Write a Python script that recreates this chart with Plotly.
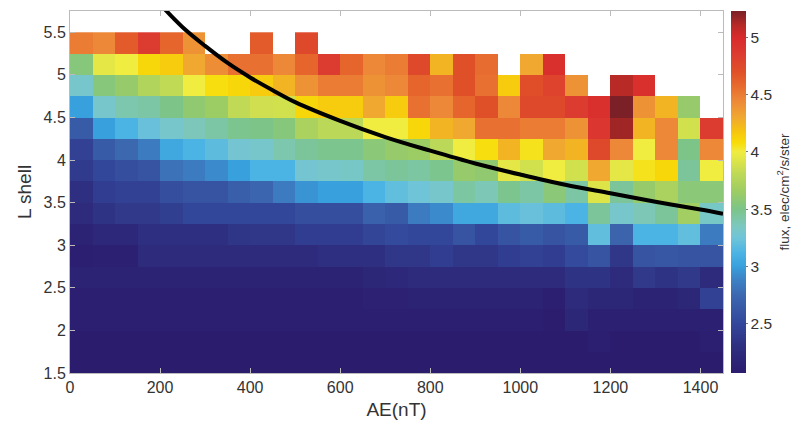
import plotly.graph_objects as go

# AE bin edges (nT) and L-shell bin edges
ae_edges = [0, 50, 100, 150, 200, 250, 300, 350, 400, 450, 500, 550, 600, 650, 700,
            750, 800, 850, 900, 950, 1000, 1050, 1100, 1150, 1200, 1250, 1300, 1350, 1400, 1450]
l_edges = [1.5, 1.75, 2.0, 2.25, 2.5, 2.75, 3.0, 3.25, 3.5, 3.75, 4.0, 4.25, 4.5, 4.75, 5.0, 5.25, 5.5]

N = None
row_150 = [2.07]*29
row_175 = [2.07]*23 + [2.1] + [2.07]*4 + [2.1]
row_200 = [2.1]*21 + [2.08, 2.2] + [2.12]*6
row_225 = [2.1]*13 + [2.13, 2.13] + [2.15]*6 + [2.1, 2.25, 2.2, 2.2, 2.15, 2.15, 2.2, 2.45]
row_250 = [2.15]*13 + [2.2, 2.22] + [2.25]*7 + [2.33, 2.33, 2.25, 2.38, 2.33, 2.38, 2.25]
row_275 = [2.1, 2.12, 2.12, 2.25, 2.25, 2.25, 2.25, 2.25, 2.25, 2.25, 2.25, 2.3, 2.3, 2.3, 2.37,
           2.37, 2.42, 2.37, 2.37, 2.42, 2.45, 2.42, 2.53, 2.6, 2.37, 2.6, 2.62, 2.6, 2.6]
row_300 = [2.15, 2.22, 2.22, 2.3, 2.3, 2.3, 2.3, 2.35, 2.37, 2.37, 2.42, 2.42, 2.42, 2.48, 2.52,
           2.5, 2.5, 2.6, 2.5, 2.6, 2.65, 2.6, 2.65, 3.2, 2.72, 3.12, 3.12, 3.2, 2.85]
row_325 = [2.25, 2.33, 2.38, 2.38, 2.43, 2.5, 2.5, 2.5, 2.5, 2.5, 2.55, 2.55, 2.55, 2.7, 2.65,
           2.85, 2.92, 3.05, 3.05, 3.18, 3.22, 3.18, 3.12, 3.45, 3.3, 3.38, 3.45, 3.68, 3.32]
row_350 = [2.3, 2.42, 2.45, 2.45, 2.55, 2.6, 2.6, 2.68, 2.73, 2.85, 2.95, 3.0, 3.0, 3.12, 3.2,
           3.25, 3.3, 3.43, 3.38, 3.48, 3.42, 3.57, 3.42, 3.92, 3.45, 3.62, 3.72, 3.57, 3.57]
row_375 = [2.4, 2.5, 2.55, 2.6, 2.8, 2.85, 2.92, 3.0, 3.12, 3.12, 3.28, 3.3, 3.32, 3.42, 3.45,
           3.43, 3.48, 3.62, 3.6, 3.95, 3.88, 4.0, 3.88, 4.3, 3.95, 4.05, 4.1, 3.45, 4.0]
row_400 = [2.45, 2.65, 2.75, 2.85, 3.05, 3.12, 3.18, 3.28, 3.3, 3.4, 3.45, 3.48, 3.48, 3.57, 3.62,
           3.65, 3.8, 4.0, 4.07, 4.25, 4.05, 4.3, 4.25, 4.75, 4.45, 4.0, 4.45, 3.5, 4.45]
row_425 = [2.65, 3.0, 3.12, 3.22, 3.3, 3.37, 3.42, 3.48, 3.5, 3.55, 3.72, 3.8, 3.8, 4.0, 4.0,
           4.1, 4.25, 4.3, 4.55, 4.55, 4.5, 4.5, 4.4, 4.9, 5.15, 4.25, 4.45, 3.88, 4.85]
row_450 = [3.0, 3.3, 3.4, 3.42, 3.5, 3.6, 3.65, 3.82, 3.87, 3.88, 4.1, 4.15, 4.15, 4.3, 4.15,
           4.55, 4.45, 4.6, 4.7, 4.45, 4.75, 4.75, 4.85, 4.95, 5.23, 4.4, 4.25, 3.62, N]
row_475 = [3.3, 3.55, 3.62, 3.75, 3.82, 4.0, 4.07, 4.1, 4.15, 4.25, 4.4, 4.5, 4.5, 4.4, 4.45,
           4.6, 4.55, 4.7, 4.55, 4.15, 4.72, 4.8, 4.4, N, 5.1, 4.95, N, N, N]
row_500 = [3.55, 3.95, 4.0, 4.1, 4.15, 4.3, 4.42, 4.55, 4.55, 4.45, 4.6, 4.85, 4.6, 4.45, 4.5,
           4.75, 4.25, 4.7, 4.57, N, 4.3, 4.95, N, N, N, N, N, N, N]
row_525 = [4.5, 4.45, 4.65, 4.85, 4.6, 4.4, N, N, 4.65, N, 4.75] + [N]*18

z = [row_150, row_175, row_200, row_225, row_250, row_275, row_300, row_325,
     row_350, row_375, row_400, row_425, row_450, row_475, row_500, row_525]

# boundary curve
curve_ae = [200, 250, 300, 350, 400, 450, 500, 600, 700, 800, 900, 1000, 1100, 1200, 1300, 1400, 1450]
curve_l = [5.83, 5.56, 5.34, 5.14, 4.97, 4.82, 4.68, 4.46, 4.27, 4.11, 3.96, 3.83, 3.71, 3.61, 3.51, 3.42, 3.37]

zmin, zmax = 2.07, 5.23
stops = [
    (2.07, "#2c1c6e"), (2.3, "#2e2f80"), (2.5, "#33479a"), (2.75, "#3c68b0"),
    (2.9, "#3c85c8"), (3.0, "#38a0dc"), (3.12, "#4cb4e4"), (3.25, "#70c4d8"),
    (3.35, "#7cc8c0"), (3.5, "#7cc488"), (3.65, "#9ccc64"), (3.8, "#bcd858"),
    (3.92, "#dce448"), (4.0, "#f0ec40"), (4.08, "#f8dc08"), (4.18, "#f6c410"),
    (4.3, "#f0a830"), (4.45, "#ec8838"), (4.55, "#e87030"), (4.7, "#e05028"),
    (4.85, "#dc3c30"), (5.0, "#d82a2c"), (5.1, "#b82a26"), (5.23, "#7a2026"),
]
colorscale = [[(v - zmin) / (zmax - zmin), c] for v, c in stops]

font_fam = "Liberation Sans Narrow, Arial Narrow, Liberation Sans, Arial, sans-serif"
txt = "#333333"

fig = go.Figure()
fig.add_trace(go.Heatmap(
    x=ae_edges, y=l_edges, z=z, zmin=zmin, zmax=zmax,
    colorscale=colorscale, hoverongaps=False,
    colorbar=dict(
        x=1.0122, xanchor="left", xpad=0, y=0.5, yanchor="middle", ypad=0,
        len=1, lenmode="fraction", thickness=15, outlinewidth=0,
        tickvals=[2.5, 3, 3.5, 4, 4.5, 5], ticktext=["2.5", "3", "3.5", "4", "4.5", "5"],
        ticks="outside", ticklen=2, tickcolor="#777777",
        tickfont=dict(size=15.5, color=txt, family=font_fam),
        title=dict(text="flux, elec/cm<sup>2</sup>/s/ster", side="right",
                   font=dict(size=13.5, color=txt, family=font_fam)),
    ),
))
fig.add_trace(go.Scatter(
    x=curve_ae, y=curve_l, mode="lines", line=dict(color="black", width=4, shape="spline"),
    showlegend=False, hoverinfo="skip",
))

axis_common = dict(
    showgrid=False, zeroline=False, showline=True, linecolor="#bbbbbb", linewidth=1,
    mirror="ticks", ticks="inside", ticklen=5, tickcolor="#bbbbbb",
    tickfont=dict(size=16, color=txt, family=font_fam),
)
fig.update_layout(
    width=803, height=436,
    margin=dict(l=70, r=80, t=11, b=63),
    paper_bgcolor="white", plot_bgcolor="white",
    xaxis=dict(range=[0, 1450], tickvals=[0, 200, 400, 600, 800, 1000, 1200, 1400],
               title=dict(text="AE(nT)", font=dict(size=19, color=txt, family=font_fam), standoff=7),
               **axis_common),
    yaxis=dict(range=[1.5, 5.75], tickvals=[1.5, 2, 2.5, 3, 3.5, 4, 4.5, 5, 5.5],
               ticktext=["1.5", "2", "2.5", "3", "3.5", "4", "4.5", "5", "5.5"],
               title=dict(text="L shell", font=dict(size=19, color=txt, family=font_fam), standoff=6),
               **axis_common),
    showlegend=False,
)
fig.write_html("out.html")
